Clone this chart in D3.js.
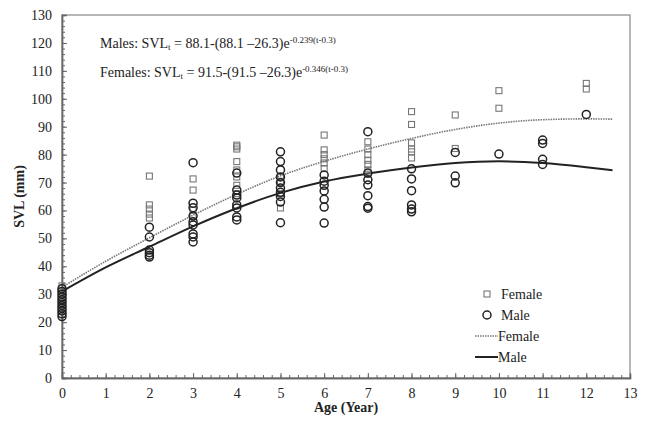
<!DOCTYPE html>
<html>
<head>
<meta charset="utf-8">
<script src="https://cdn.jsdelivr.net/npm/d3@7"></script>
<style>
  body { margin: 0; background: #fff; }
  svg text { font-family: "Liberation Serif", "Times New Roman", "DejaVu Serif", serif; fill: #222; }
</style>
</head>
<body>
<div id="chart-area"></div>
<script>
const serif = "'Liberation Serif', 'Times New Roman', serif"

// Observed SVL values by age
const femaleAges = [0,0,0,0,0, 2,2,2,2,2, 3,3,3,3, 4,4,4,4,4,4,4,4,
    5,5,5,5, 6,6,6,6,6,6, 7,7,7,7,7,7,7, 8,8,8,8,8,8, 9,9, 10,10, 12,12]
const femaleSvl = [24,26,28,30,33, 72.3,62,60.5,58.7,57.3, 71.3,67.3,60,58, 83.4,82.8,82,77.5,74.5,72,69,66,
    72,70,66,60.9, 87,81.7,80,78.5,77,75, 84.6,82,80,78,76.5,74.5,73, 95.4,90.8,84.2,82,81,78.8, 94.2,82.2, 102.9,96.6, 105.5,103.5]

const maleAges = [0,0,0,0,0,0,0,0,0,0,0, 2,2,2,2,2,2, 3,3,3,3,3,3,3,3,3,
    4,4,4,4,4,4,4,4, 5,5,5,5,5,5,5,5,5,5, 6,6,6,6,6,6,6,
    7,7,7,7,7,7,7, 8,8,8,8,8,8, 9,9,9, 10, 11,11,11,11, 12]
const maleSvl = [22,23,24,25,26,27,28,29,30,31,32, 54,50.5,45.8,44.9,44,43.3, 77.1,62.6,61,58,56,54.8,51.6,50.5,48.7,
    73.4,67.3,65.5,64.5,62,60.9,57.7,56.6, 81,77.5,74.5,72,70,68,66.5,65,63,55.6, 72.7,70.5,69,67,64,61.2,55.5,
    88.2,73.4,71,69.1,65.3,61.4,60.8, 74.9,71.3,67.1,62,60.5,59.5, 80.8,72.3,69.9, 80.2, 85.2,84,78.3,76.5, 94.4]

// Fitted trend lines
const fitAges = [0,1,2,3,4,5,6,7,8,9,10,11,12,12.6]
const femaleFit = [32.5,41.8,50.2,58.3,65.8,72.4,77.6,82,85.8,89,91.3,92.5,92.8,92.7]
const maleFit = [31,39.6,47,54.3,60.8,66.3,70.4,73.2,75.4,77,77.6,77,75.5,74.4]

const xTicks = d3.range(0, 14)
const yTicks = d3.range(0, 131, 10)

const margin = {left: 62, right: 21, top: 15, bottom: 44},
    width = 651 - margin.left - margin.right,
    height = 422 - margin.top - margin.bottom

const svg = d3.select("#chart-area").append("svg")
    .attr("width", 651)
    .attr("height", 422)
    .attr("font-family", serif)

const g = svg.append("g")
    .attr("transform", `translate(${margin.left}, ${margin.top})`)

const x = d3.scaleLinear().domain([0, 13]).range([0, width])
const y = d3.scaleLinear().domain([0, 130]).range([height, 0])

// plot frame
g.append("rect")
    .attr("width", width)
    .attr("height", height)
    .attr("fill", "none")
    .attr("stroke", "#888")
    .attr("stroke-width", 1.2)

// minor ticks
const xMinor = g.append("g")
    .attr("transform", `translate(0, ${height})`)
    .call(d3.axisBottom(x).tickValues(d3.range(0, 13.01, 0.2)).tickSize(-3).tickFormat(""))
const yMinor = g.append("g")
    .call(d3.axisLeft(y).tickValues(d3.range(0, 130.1, 2)).tickSize(-3).tickFormat(""))

// major axes
const xAxis = g.append("g")
    .attr("transform", `translate(0, ${height})`)
    .call(d3.axisBottom(x).tickValues(xTicks).tickSize(-5).tickPadding(10))
const yAxis = g.append("g")
    .call(d3.axisLeft(y).tickValues(yTicks).tickSize(-5).tickPadding(10))

;[xMinor, yMinor, xAxis, yAxis].forEach(a => {
    a.attr("font-family", serif).attr("font-size", 14)
    a.select(".domain").attr("stroke", "#666").attr("stroke-width", 1.4)
    a.selectAll(".tick line").attr("stroke", "#666")
    a.selectAll(".tick text").attr("fill", "#222")
})

// axis titles
svg.append("text")
    .attr("x", margin.left + x(6.5))
    .attr("y", 412)
    .attr("text-anchor", "middle")
    .attr("font-size", "14px")
    .attr("font-weight", "bold")
    .text("Age (Year)")

svg.append("text")
    .attr("transform", `translate(24, ${margin.top + y(65)}) rotate(-90)`)
    .attr("text-anchor", "middle")
    .attr("font-size", "14px")
    .attr("font-weight", "bold")
    .text("SVL (mm)")

// equations
const eq = [
    {label: "Males: SVL", rest: " = 88.1-(88.1 \u201326.3)e", sup: "-0.239(t-0.3)", yy: 48},
    {label: "Females: SVL", rest: " = 91.5-(91.5 \u201326.3)e", sup: "-0.346(t-0.3)", yy: 77}
]
eq.forEach(e => {
    const t = svg.append("text").attr("x", 100).attr("y", e.yy).attr("font-size", "14px")
    t.append("tspan").text(e.label)
    t.append("tspan").attr("font-size", "9px").attr("dy", 2).text("t")
    t.append("tspan").attr("dy", -2).text(e.rest)
    t.append("tspan").attr("font-size", "9px").attr("dy", -5).text(e.sup)
})

// trend lines
const line = d3.line().curve(d3.curveMonotoneX)
    .x((d, i) => x(fitAges[i]))
    .y(d => y(d))

g.append("path")
    .attr("d", line(femaleFit))
    .attr("fill", "none")
    .attr("stroke", "#777")
    .attr("stroke-width", 1.6)
    .attr("stroke-dasharray", "1.5,1")

g.append("path")
    .attr("d", line(maleFit))
    .attr("fill", "none")
    .attr("stroke", "#222")
    .attr("stroke-width", 2)

// points
g.selectAll(".female").data(femaleSvl).enter().append("rect")
    .attr("class", "female")
    .attr("x", (d, i) => x(femaleAges[i]) - 3)
    .attr("y", d => y(d) - 3)
    .attr("width", 6)
    .attr("height", 6)
    .attr("fill", "none")
    .attr("stroke", "#777")
    .attr("stroke-width", 1.1)

g.selectAll(".male").data(maleSvl).enter().append("circle")
    .attr("class", "male")
    .attr("cx", (d, i) => x(maleAges[i]))
    .attr("cy", d => y(d))
    .attr("r", 4)
    .attr("fill", "none")
    .attr("stroke", "#222")
    .attr("stroke-width", 1.5)

// legend
const legend = svg.append("g").attr("transform", "translate(475, 294)")
legend.append("rect").attr("x", 9).attr("y", -3).attr("width", 6).attr("height", 6)
    .attr("fill", "none").attr("stroke", "#777").attr("stroke-width", 1.1)
legend.append("circle").attr("cx", 12).attr("cy", 21).attr("r", 4)
    .attr("fill", "none").attr("stroke", "#222").attr("stroke-width", 1.5)
legend.append("line").attr("x1", 0).attr("x2", 23).attr("y1", 42).attr("y2", 42)
    .attr("stroke", "#777").attr("stroke-width", 1.6).attr("stroke-dasharray", "1.5,1")
legend.append("line").attr("x1", 0).attr("x2", 23).attr("y1", 63).attr("y2", 63)
    .attr("stroke", "#222").attr("stroke-width", 2)
;["Female", "Male", "Female", "Male"].forEach((s, i) => {
    legend.append("text")
        .attr("x", i < 2 ? 26 : 23)
        .attr("y", i * 21 + 5)
        .attr("font-size", "14px")
        .text(s)
})
</script>
</body>
</html>
